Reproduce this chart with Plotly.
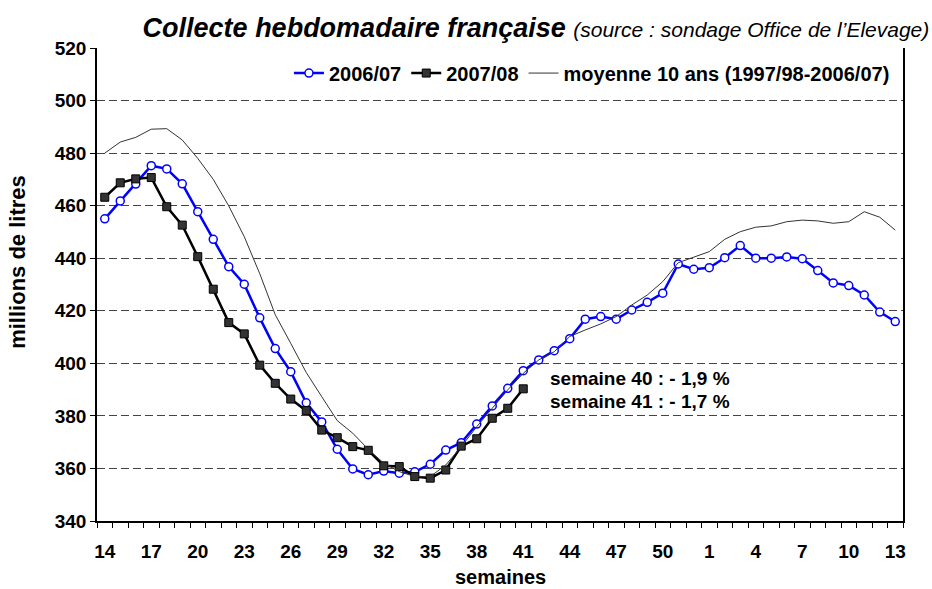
import plotly.graph_objects as go

# weeks of the milk campaign (April -> March)
weeks = [14, 15, 16, 17, 18, 19, 20, 21, 22, 23, 24, 25, 26, 27, 28, 29, 30,
         31, 32, 33, 34, 35, 36, 37, 38, 39, 40, 41, 42, 43, 44, 45, 46, 47,
         48, 49, 50, 51, 52, 1, 2, 3, 4, 5, 6, 7, 8, 9, 10, 11, 12, 13]

collecte_2006_07 = [455.0, 461.8, 468.2, 475.2, 474.0, 468.3, 457.7, 447.2, 436.8,
                    430.1, 417.3, 405.6, 396.8, 385.0, 377.7, 367.3, 359.8, 357.6,
                    359.0, 358.2, 358.7, 361.6, 367.0, 369.8, 376.9, 383.8, 390.5,
                    397.2, 401.3, 404.8, 409.4, 416.8, 417.8, 416.8, 420.3, 423.2,
                    426.7, 437.8, 435.8, 436.4, 440.2, 444.8, 440.0, 440.0, 440.5,
                    439.8, 435.3, 430.6, 429.6, 426.0, 419.5, 415.9]

collecte_2007_08 = [463.2, 468.7, 470.2, 470.7, 459.6, 452.6, 440.6, 428.2, 415.5,
                    411.2, 399.3, 392.4, 386.4, 382.0, 374.6, 371.7, 368.3, 366.9,
                    361.0, 360.7, 356.9, 356.3, 359.4, 368.5, 371.3, 379.1, 382.9,
                    390.3]

moyenne_10_ans = [480.0, 484.2, 486.0, 489.1, 489.3, 485.0, 478.0, 470.0, 459.9,
                  448.2, 434.1, 418.5, 407.6, 396.5, 387.3, 378.2, 373.4, 367.3,
                  362.0, 358.8, 356.9, 356.9, 361.3, 368.3, 375.9, 382.9, 389.9,
                  396.2, 401.3, 404.4, 410.2, 412.7, 415.0, 417.8, 422.2, 426.0,
                  431.1, 438.3, 440.3, 442.5, 447.2, 450.1, 451.8, 452.3, 453.9,
                  454.5, 454.2, 453.3, 453.9, 457.7, 455.6, 450.7]

notes = ["semaine 40 : - 1,9 %", "semaine 41 : - 1,7 %"]

FONT = "Arial, Liberation Sans, sans-serif"

pos = list(range(len(weeks)))

fig = go.Figure()
fig.add_trace(go.Scatter(
    x=pos, y=collecte_2006_07, name="<b>2006/07</b>", mode="lines+markers",
    line=dict(color="#0000ff", width=2.5),
    marker=dict(symbol="circle", size=8, color="white",
                line=dict(color="#0000ff", width=1.5)),
))
fig.add_trace(go.Scatter(
    x=pos[:len(collecte_2007_08)], y=collecte_2007_08, name="<b>2007/08</b>",
    mode="lines+markers",
    line=dict(color="#000000", width=2.5),
    marker=dict(symbol="square", size=8, color="#333333",
                line=dict(color="#000000", width=1)),
))
fig.add_trace(go.Scatter(
    x=pos, y=moyenne_10_ans, name="<b>moyenne 10 ans (1997/98-2006/07)</b>",
    mode="lines", line=dict(color="#333333", width=1),
))

fig.add_annotation(x=28.6, y=394.4, text="<b>" + notes[0] + "</b>", showarrow=False,
                   xanchor="left", yanchor="middle", font=dict(size=19, color="black"))
fig.add_annotation(x=28.6, y=385.3, text="<b>" + notes[1] + "</b>", showarrow=False,
                   xanchor="left", yanchor="middle", font=dict(size=19, color="black"))

# axis titles placed like the original Excel chart
fig.add_annotation(xref="paper", yref="paper", x=0.5, y=-0.118, text="<b>semaines</b>",
                   showarrow=False, yanchor="middle", font=dict(size=20, color="black"))
fig.add_annotation(xref="paper", yref="paper", x=-0.098, y=0.548,
                   text="<b>millions de litres</b>", textangle=-90, showarrow=False,
                   xanchor="center", yanchor="middle", font=dict(size=22, color="black"))

fig.update_layout(
    width=932, height=589,
    margin=dict(l=97, r=29, t=48, b=68),
    paper_bgcolor="white", plot_bgcolor="white",
    font=dict(family=FONT, color="black"),
    title=dict(
        text="<b><i>Collecte hebdomadaire française</i></b> "
             "<i><span style='font-size:21px'>(source : sondage Office de l’Elevage)</span></i>",
        xref="container", yref="container", x=0.153, y=0.954,
        xanchor="left", yanchor="middle", font=dict(size=27, color="black"),
    ),
    legend=dict(orientation="h", x=0.99, y=0.947, xanchor="right", yanchor="middle",
                font=dict(size=20, color="black"), bgcolor="rgba(0,0,0,0)",
                itemwidth=30),
    showlegend=True,
)

fig.update_xaxes(
    range=[-0.5, len(weeks) - 0.5],
    tickmode="array", tickvals=pos[::3],
    ticktext=["<b>%d</b>" % w for w in weeks[::3]],
    ticks="", tickfont=dict(size=19, color="black"), ticklabelstandoff=12,
    showgrid=False, zeroline=False,
    showline=True, linecolor="black", linewidth=1.5,
    minor=dict(tickmode="array", tickvals=[p - 0.5 for p in pos] + [pos[-1] + 0.5],
               ticks="outside", ticklen=5, tickcolor="black", tickwidth=1,
               showgrid=False),
)
fig.update_yaxes(
    range=[340, 520], dtick=20, tick0=340,
    ticks="outside", ticklen=5, tickcolor="black",
    tickfont=dict(size=19, color="black"),
    tickprefix="<b>", ticksuffix="</b>",
    showgrid=True, gridcolor="#444444", griddash="8px,4px", gridwidth=1,
    zeroline=False,
    showline=True, linecolor="black", linewidth=1.5, mirror=True,
)

# drop the default page margin so the chart sits at the window origin
fig.write_html("out.html", config={"displayModeBar": False},
               post_script="document.body.style.margin='0';")
